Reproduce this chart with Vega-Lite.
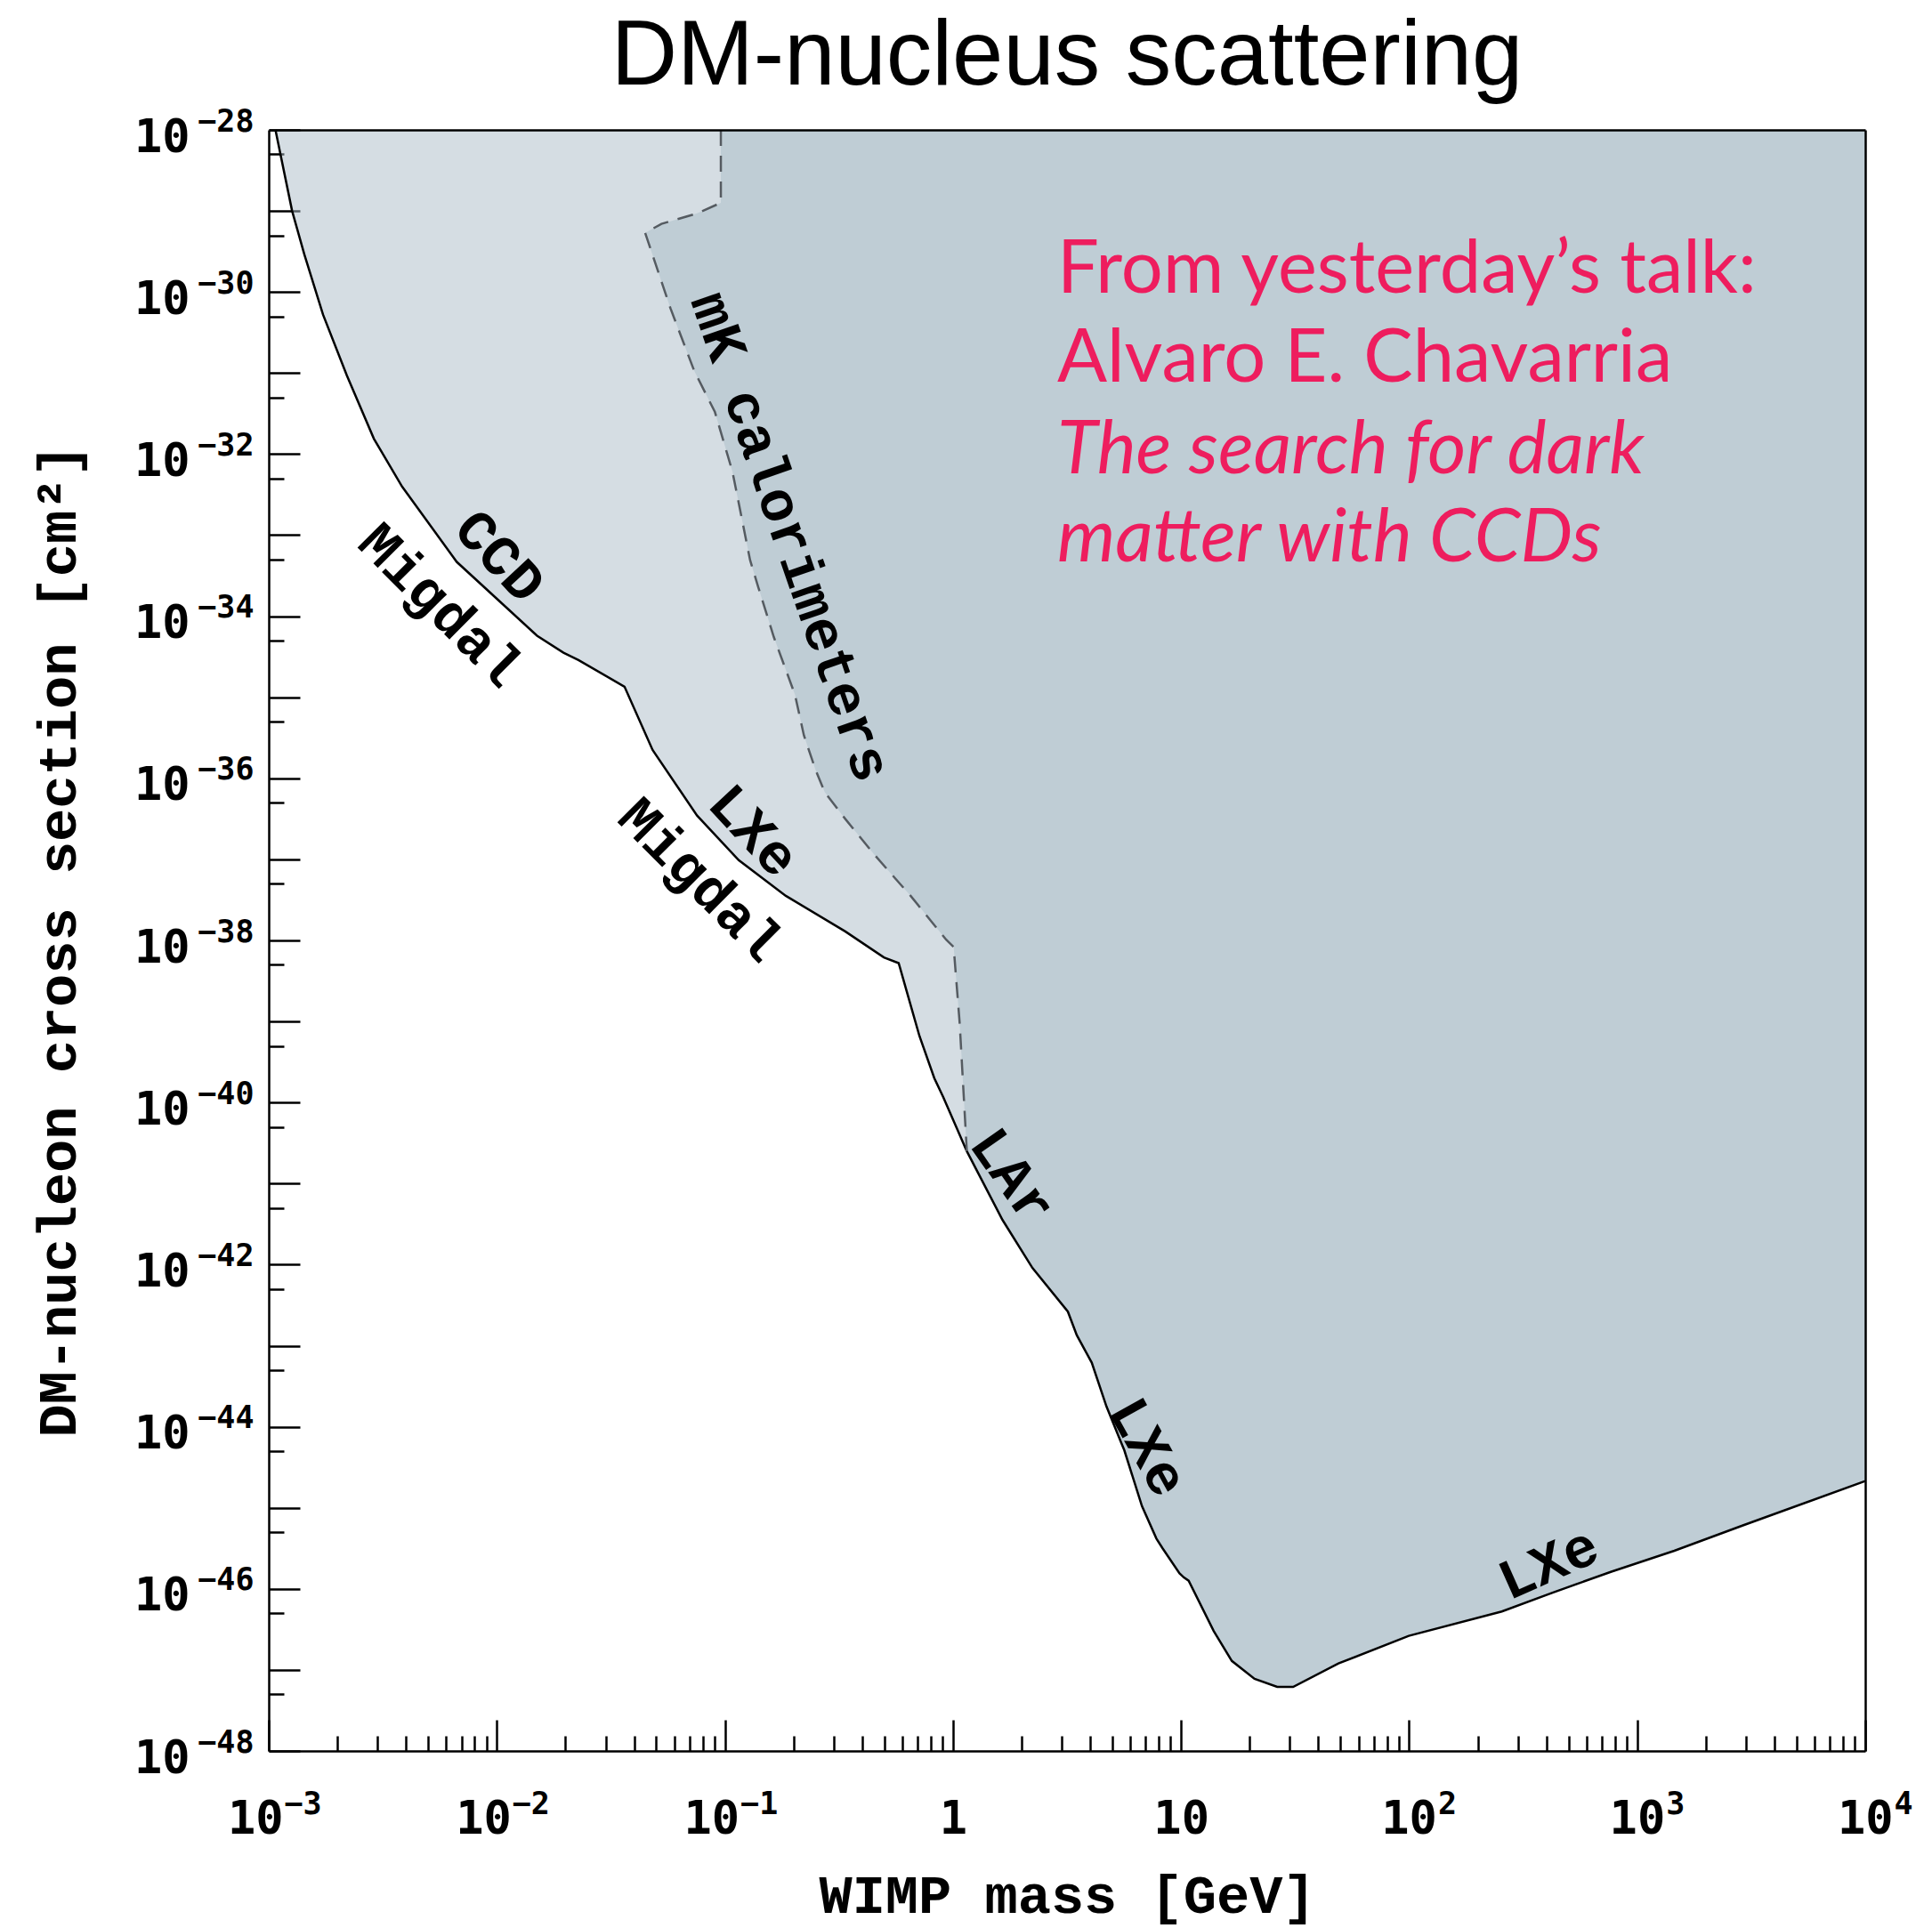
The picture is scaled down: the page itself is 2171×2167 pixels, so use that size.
{
  "$schema": "https://vega.github.io/schema/vega-lite/v6.json",
  "width": 1794,
  "height": 1822,
  "autosize": {"type": "none"},
  "padding": {"left": 302, "top": 146, "right": 75, "bottom": 199},
  "background": "white",
  "config": {
    "view": {"stroke": null},
    "axis": {"grid": false, "labelFlush": false, "labelOverlap": false, "labelBound": false}
  },
  "title": {"text": "DM-nucleus scattering", "font": "Liberation Sans", "fontSize": 103, "fontWeight": "normal", "color": "black", "anchor": "middle", "frame": "group", "offset": 2},
  "datasets": {
    "solid": [
      {"m": 0.00107, "s": 1e-28},
      {"m": 0.001266, "s": 1e-29},
      {"m": 0.00143, "s": 2.95e-30},
      {"m": 0.00173, "s": 5.25e-31},
      {"m": 0.0022, "s": 9.33e-32},
      {"m": 0.00289, "s": 1.55e-32},
      {"m": 0.00384, "s": 3.98e-33},
      {"m": 0.00667, "s": 4.68e-34},
      {"m": 0.015, "s": 5.75e-35},
      {"m": 0.0196, "s": 3.55e-35},
      {"m": 0.0228, "s": 2.88e-35},
      {"m": 0.0363, "s": 1.35e-35},
      {"m": 0.0482, "s": 2.24e-36},
      {"m": 0.0755, "s": 3.47e-37},
      {"m": 0.115, "s": 9.77e-38},
      {"m": 0.185, "s": 3.55e-38},
      {"m": 0.337, "s": 1.29e-38},
      {"m": 0.498, "s": 6.17e-39},
      {"m": 0.578, "s": 5.25e-39},
      {"m": 0.713, "s": 6.61e-40},
      {"m": 0.828, "s": 2.0e-40},
      {"m": 0.906, "s": 1.17e-40},
      {"m": 1.15, "s": 2.51e-41},
      {"m": 1.65, "s": 3.55e-42},
      {"m": 2.23, "s": 9.12e-43},
      {"m": 3.19, "s": 2.63e-43},
      {"m": 3.49, "s": 1.35e-43},
      {"m": 4.06, "s": 6.17e-44},
      {"m": 4.71, "s": 1.78e-44},
      {"m": 5.47, "s": 6.31e-45},
      {"m": 5.64, "s": 5.13e-45},
      {"m": 6.74, "s": 1.05e-45},
      {"m": 7.8, "s": 4.17e-46},
      {"m": 8.3, "s": 3.16e-46},
      {"m": 9.85, "s": 1.55e-46},
      {"m": 10.3, "s": 1.38e-46},
      {"m": 10.8, "s": 1.26e-46},
      {"m": 13.9, "s": 3.02e-47},
      {"m": 16.7, "s": 1.29e-47},
      {"m": 21, "s": 7.76e-48},
      {"m": 26.4, "s": 6.17e-48},
      {"m": 31, "s": 6.17e-48},
      {"m": 49, "s": 1.2e-47},
      {"m": 99.7, "s": 2.63e-47},
      {"m": 255, "s": 5.25e-47},
      {"m": 423, "s": 8.91e-47},
      {"m": 766, "s": 1.62e-46},
      {"m": 1455, "s": 2.95e-46},
      {"m": 2890, "s": 6.03e-46},
      {"m": 10000, "s": 2.14e-45}
    ],
    "dashed": [
      {"m": 0.096, "s": 1e-28},
      {"m": 0.096, "s": 1.26e-29},
      {"m": 0.0755, "s": 9.33e-30},
      {"m": 0.0527, "s": 6.92e-30},
      {"m": 0.0447, "s": 5.37e-30},
      {"m": 0.0577, "s": 6.31e-31},
      {"m": 0.0733, "s": 1.07e-31},
      {"m": 0.0904, "s": 3.31e-32},
      {"m": 0.108, "s": 6.03e-33},
      {"m": 0.129, "s": 4.9e-34},
      {"m": 0.14, "s": 2.29e-34},
      {"m": 0.164, "s": 5.5e-35},
      {"m": 0.203, "s": 1.07e-35},
      {"m": 0.222, "s": 3.39e-36},
      {"m": 0.25, "s": 1.26e-36},
      {"m": 0.274, "s": 6.76e-37},
      {"m": 0.337, "s": 3.16e-37},
      {"m": 0.455, "s": 1.12e-37},
      {"m": 0.652, "s": 3.55e-38},
      {"m": 0.934, "s": 1.02e-38},
      {"m": 1.007, "s": 8.32e-39},
      {"m": 1.07, "s": 9.55e-40},
      {"m": 1.15, "s": 2.51e-41}
    ]
  },
  "resolve": {"scale": {"x": "shared", "y": "shared"}, "axis": {"x": "independent", "y": "independent"}},
  "layer": [
    {
      "data": {"name": "solid"},
      "mark": {"type": "area", "fill": "#abbbc7", "opacity": 0.5},
      "encoding": {
        "x": {"field": "m", "type": "quantitative", "scale": {"type": "log", "domain": [0.001, 10000], "nice": false},
          "axis": {"orient": "bottom", "values": [1, 10], "ticks": false, "domain": true, "domainColor": "black", "domainWidth": 2.5,
            "labelFont": "DejaVu Sans Mono", "labelFontWeight": "bold", "labelFontSize": 52, "labelColor": "black", "labelPadding": 51, "labelAlign": "center", "labelBaseline": "top",
            "labelExpr": "datum.value < 5 ? '1' : '10'",
            "title": "WIMP mass [GeV]", "titleFont": "Liberation Mono", "titleFontWeight": "bold", "titleFontSize": 62, "titleColor": "black", "titlePadding": 30, "zindex": 1}},
        "y": {"field": "s", "type": "quantitative", "scale": {"type": "log", "domain": [1e-48, 1e-28], "nice": false},
          "axis": {"orient": "left", "values": [1e-28, 1e-30, 1e-32, 1e-34, 1e-36, 1e-38, 1e-40, 1e-42, 1e-44, 1e-46, 1e-48], "ticks": false, "domain": true, "domainColor": "black", "domainWidth": 2.5,
            "labelFont": "DejaVu Sans Mono", "labelFontWeight": "bold", "labelFontSize": 52, "labelColor": "black", "labelPadding": 89, "labelAlign": "right", "labelBaseline": "middle", "labelOffset": 8,
            "labelExpr": "'10'",
            "title": "DM-nucleon cross section [cm²]", "titleFont": "Liberation Mono", "titleFontWeight": "bold", "titleFontSize": 62, "titleColor": "black", "titlePadding": 53, "zindex": 1}},
        "y2": {"datum": 1e-28}
      }
    },
    {
      "data": {"name": "dashed"},
      "mark": {"type": "area", "orient": "horizontal", "fill": "#bfcdd5", "opacity": 1},
      "encoding": {
        "y": {"field": "s", "type": "quantitative", "scale": {"type": "log", "domain": [1e-48, 1e-28], "nice": false},
          "axis": {"orient": "left", "values": [1e-28, 1e-29, 1e-30, 1e-31, 1e-32, 1e-33, 1e-34, 1e-35, 1e-36, 1e-37, 1e-38, 1e-39, 1e-40, 1e-41, 1e-42, 1e-43, 1e-44, 1e-45, 1e-46, 1e-47, 1e-48],
            "ticks": true, "tickSize": -35, "tickWidth": 2.5, "tickColor": "black", "labels": false, "domain": false, "title": null, "zindex": 0}},
        "x": {"field": "m", "type": "quantitative", "scale": {"type": "log", "domain": [0.001, 10000], "nice": false},
          "axis": {"orient": "bottom", "values": [0.001, 0.01, 0.1, 1, 10, 100, 1000, 10000],
            "ticks": true, "tickSize": -35, "tickWidth": 2.5, "tickColor": "black", "labels": false, "domain": false, "title": null, "zindex": 0}},
        "x2": {"datum": 10000}
      }
    },
    {
      "data": {"name": "solid"},
      "transform": [{"filter": "datum.m >= 1.15"}],
      "mark": {"type": "area", "fill": "#bfcdd5", "opacity": 1},
      "encoding": {
        "x": {"field": "m", "type": "quantitative", "scale": {"type": "log", "domain": [0.001, 10000], "nice": false},
          "axis": {"orient": "bottom", "values": [0.002, 0.003, 0.004, 0.005, 0.006, 0.007, 0.008, 0.009, 0.02, 0.03, 0.04, 0.05, 0.06, 0.07, 0.08, 0.09, 0.2, 0.3, 0.4, 0.5, 0.6, 0.7, 0.8, 0.9, 2, 3, 4, 5, 6, 7, 8, 9, 20, 30, 40, 50, 60, 70, 80, 90, 200, 300, 400, 500, 600, 700, 800, 900, 2000, 3000, 4000, 5000, 6000, 7000, 8000, 9000],
            "ticks": true, "tickSize": -17, "tickWidth": 2.5, "tickColor": "black", "labels": false, "domain": false, "title": null, "zindex": 0}},
        "y": {"field": "s", "type": "quantitative", "scale": {"type": "log", "domain": [1e-48, 1e-28], "nice": false},
          "axis": {"orient": "left", "values": [5e-29, 5e-30, 5e-31, 5e-32, 5e-33, 5e-34, 5e-35, 5e-36, 5e-37, 5e-38, 5e-39, 5e-40, 5e-41, 5e-42, 5e-43, 5e-44, 5e-45, 5e-46, 5e-47, 5e-48],
            "ticks": true, "tickSize": -17, "tickWidth": 2.5, "tickColor": "black", "labels": false, "domain": false, "title": null, "zindex": 0}},
        "y2": {"datum": 1e-28}
      }
    },
    {
      "data": {"name": "solid"},
      "mark": {"type": "line", "stroke": "black", "strokeWidth": 2.5},
      "encoding": {
        "x": {"field": "m", "type": "quantitative", "scale": {"type": "log", "domain": [0.001, 10000], "nice": false},
          "axis": {"orient": "top", "ticks": false, "labels": false, "domain": true, "domainColor": "black", "domainWidth": 2.5, "title": null, "zindex": 1}},
        "y": {"field": "s", "type": "quantitative", "scale": {"type": "log", "domain": [1e-48, 1e-28], "nice": false},
          "axis": {"orient": "right", "ticks": false, "labels": false, "domain": true, "domainColor": "black", "domainWidth": 2.5, "title": null, "zindex": 1}}
      }
    },
    {
      "data": {"name": "dashed"},
      "mark": {"type": "line", "stroke": "#555b61", "strokeWidth": 2.5, "strokeDash": [18, 11]},
      "encoding": {
        "x": {"field": "m", "type": "quantitative", "scale": {"type": "log", "domain": [0.001, 10000], "nice": false},
          "axis": {"orient": "bottom", "values": [0.001, 0.01, 0.1, 100, 1000, 10000], "ticks": false, "domain": false, "title": null,
            "labelFont": "DejaVu Sans Mono", "labelFontWeight": "bold", "labelFontSize": 52, "labelColor": "black", "labelPadding": 51, "labelAlign": "right", "labelBaseline": "top",
            "labelOffset": {"condition": {"test": "datum.value < 0.5", "value": 16}, "value": 31},
            "labelExpr": "'10'", "zindex": 1}},
        "y": {"field": "s", "type": "quantitative", "scale": {"type": "log", "domain": [1e-48, 1e-28], "nice": false},
          "axis": {"orient": "left", "values": [1e-28, 1e-30, 1e-32, 1e-34, 1e-36, 1e-38, 1e-40, 1e-42, 1e-44, 1e-46, 1e-48], "ticks": false, "domain": false, "title": null,
            "labelFont": "DejaVu Sans Mono", "labelFontWeight": "bold", "labelFontSize": 35, "labelColor": "black", "labelPadding": 17, "labelAlign": "right", "labelBaseline": "middle", "labelOffset": -10,
            "labelExpr": "'−' + (-round(log(datum.value)/LN10))", "zindex": 1}},
        "order": {"field": "s", "type": "quantitative", "sort": "descending"}
      }
    },
    {
      "data": {"values": [{"label": "CCD", "m": 0.01023, "s": 5.37e-34}, {"label": "LXe", "m": 0.1327, "s": 2.21e-37}]},
      "mark": {"type": "text", "font": "Liberation Mono", "fontWeight": "bold", "fontSize": 64, "angle": 47, "align": "center", "baseline": "middle", "color": "black"},
      "encoding": {
        "x": {"field": "m", "type": "quantitative", "scale": {"type": "log", "domain": [0.001, 10000], "nice": false},
          "axis": {"orient": "bottom", "values": [0.001, 0.01, 0.1, 100, 1000, 10000], "ticks": false, "domain": false, "title": null,
            "labelFont": "DejaVu Sans Mono", "labelFontWeight": "bold", "labelFontSize": 35, "labelColor": "black", "labelPadding": 42, "labelAlign": "left", "labelBaseline": "top",
            "labelOffset": {"condition": {"test": "datum.value < 0.5", "value": 17}, "value": 32},
            "labelExpr": "datum.value < 0.5 ? '−' + (-round(log(datum.value)/LN10)) : '' + round(log(datum.value)/LN10)", "zindex": 1}},
        "y": {"field": "s", "type": "quantitative", "scale": {"type": "log", "domain": [1e-48, 1e-28], "nice": false}, "axis": null},
        "text": {"field": "label"}
      }
    },
    {
      "data": {"values": [{"label": "Migdal", "m": 0.00563, "s": 1.33e-34}, {"label": "Migdal", "m": 0.0777, "s": 5.43e-38}]},
      "mark": {"type": "text", "font": "Liberation Mono", "fontWeight": "bold", "fontSize": 64, "angle": 45, "align": "center", "baseline": "middle", "color": "black"},
      "encoding": {
        "x": {"field": "m", "type": "quantitative", "scale": {"type": "log", "domain": [0.001, 10000], "nice": false}, "axis": null},
        "y": {"field": "s", "type": "quantitative", "scale": {"type": "log", "domain": [1e-48, 1e-28], "nice": false}, "axis": null},
        "text": {"field": "label"}
      }
    },
    {
      "data": {"values": [{"label": "mK calorimeters", "m": 0.1925, "s": 9.46e-34}]},
      "mark": {"type": "text", "font": "Liberation Mono", "fontWeight": "bold", "fontSize": 64, "angle": 71, "align": "center", "baseline": "middle", "color": "black"},
      "encoding": {
        "x": {"field": "m", "type": "quantitative", "scale": {"type": "log", "domain": [0.001, 10000], "nice": false}, "axis": null},
        "y": {"field": "s", "type": "quantitative", "scale": {"type": "log", "domain": [1e-48, 1e-28], "nice": false}, "axis": null},
        "text": {"field": "label"}
      }
    },
    {
      "data": {"values": [{"label": "LAr", "m": 1.807, "s": 1.22e-41}]},
      "mark": {"type": "text", "font": "Liberation Mono", "fontWeight": "bold", "fontSize": 64, "angle": 55, "align": "center", "baseline": "middle", "color": "black"},
      "encoding": {
        "x": {"field": "m", "type": "quantitative", "scale": {"type": "log", "domain": [0.001, 10000], "nice": false}, "axis": null},
        "y": {"field": "s", "type": "quantitative", "scale": {"type": "log", "domain": [1e-48, 1e-28], "nice": false}, "axis": null},
        "text": {"field": "label"}
      }
    },
    {
      "data": {"values": [{"label": "LXe", "m": 7.1, "s": 5.55e-45}]},
      "mark": {"type": "text", "font": "Liberation Mono", "fontWeight": "bold", "fontSize": 64, "angle": 61, "align": "center", "baseline": "middle", "color": "black"},
      "encoding": {
        "x": {"field": "m", "type": "quantitative", "scale": {"type": "log", "domain": [0.001, 10000], "nice": false}, "axis": null},
        "y": {"field": "s", "type": "quantitative", "scale": {"type": "log", "domain": [1e-48, 1e-28], "nice": false}, "axis": null},
        "text": {"field": "label"}
      }
    },
    {
      "data": {"values": [{"label": "LXe", "m": 410, "s": 2.0e-46}]},
      "mark": {"type": "text", "font": "Liberation Mono", "fontWeight": "bold", "fontSize": 64, "angle": -24, "align": "center", "baseline": "middle", "color": "black"},
      "encoding": {
        "x": {"field": "m", "type": "quantitative", "scale": {"type": "log", "domain": [0.001, 10000], "nice": false}, "axis": null},
        "y": {"field": "s", "type": "quantitative", "scale": {"type": "log", "domain": [1e-48, 1e-28], "nice": false}, "axis": null},
        "text": {"field": "label"}
      }
    },
    {
      "data": {"values": [{"line": "From yesterday’s talk:", "m": 2.864, "s": 9.68e-31}, {"line": "Alvaro E. Chavarria", "m": 2.864, "s": 7.83e-32}]},
      "mark": {"type": "text", "font": "Lato", "fontSize": 83, "fontWeight": "normal", "align": "left", "baseline": "alphabetic", "color": "#EE1D5E"},
      "encoding": {
        "x": {"field": "m", "type": "quantitative", "scale": {"type": "log", "domain": [0.001, 10000], "nice": false}, "axis": null},
        "y": {"field": "s", "type": "quantitative", "scale": {"type": "log", "domain": [1e-48, 1e-28], "nice": false}, "axis": null},
        "text": {"field": "line"}
      }
    },
    {
      "data": {"values": [{"line": "The search for dark", "m": 2.864, "s": 5.83e-33}, {"line": "matter with CCDs", "m": 2.864, "s": 4.74e-34}]},
      "mark": {"type": "text", "font": "Lato", "fontSize": 83, "fontWeight": "normal", "fontStyle": "italic", "align": "left", "baseline": "alphabetic", "color": "#EE1D5E"},
      "encoding": {
        "x": {"field": "m", "type": "quantitative", "scale": {"type": "log", "domain": [0.001, 10000], "nice": false}, "axis": null},
        "y": {"field": "s", "type": "quantitative", "scale": {"type": "log", "domain": [1e-48, 1e-28], "nice": false}, "axis": null},
        "text": {"field": "line"}
      }
    }
  ]
}
